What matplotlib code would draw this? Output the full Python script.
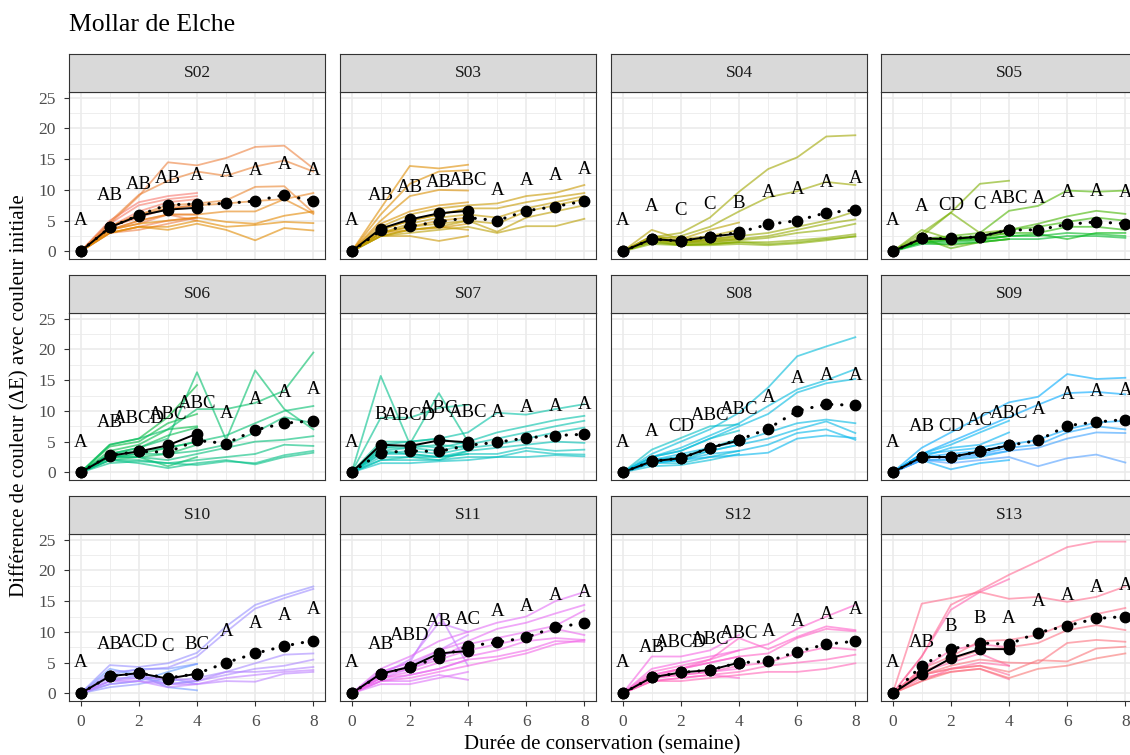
import numpy as np
import matplotlib
matplotlib.use("Agg")
import matplotlib.pyplot as plt

plt.rcParams["font.family"] = ["Liberation Serif", "DejaVu Serif"]

# ---------------------------------------------------------------------------
# Data
# ---------------------------------------------------------------------------
panels = ["S02", "S03", "S04", "S05", "S06", "S07",
          "S08", "S09", "S10", "S11", "S12", "S13"]
weeks4 = [0, 1, 2, 3, 4]
weeks8 = [0, 1, 2, 3, 4, 5, 6, 7, 8]

# S02
s02_short = [[0, 5.0, 8.0, 9.0, 9.5], [0, 4.5, 7.5, 8.5, 9.0], [0, 4.0, 6.5, 8.0, 8.5],
             [0, 4.0, 5.5, 7.0, 7.5], [0, 3.5, 5.0, 6.0, 6.0], [0, 3.0, 4.0, 5.0, 5.5],
             [0, 3.5, 4.5, 6.0, 5.0], [0, 3.0, 3.5, 4.5, 5.5]]
s02_long = [[0, 4.5, 9.0, 14.5, 14.0, 15.2, 17.0, 17.2, 13.5],
            [0, 4.8, 9.2, 11.5, 13.0, 12.3, 13.8, 14.8, 13.0],
            [0, 4.0, 6.0, 7.5, 7.8, 8.3, 10.5, 10.6, 6.3],
            [0, 4.0, 6.0, 7.0, 7.5, 7.8, 8.2, 8.5, 9.5],
            [0, 3.5, 5.0, 6.0, 6.0, 6.5, 6.5, 8.5, 6.1],
            [0, 3.5, 4.5, 5.0, 5.5, 4.8, 4.5, 5.8, 6.5],
            [0, 3.0, 4.0, 4.0, 5.0, 4.0, 4.3, 4.8, 4.6],
            [0, 3.0, 4.0, 3.5, 4.5, 3.5, 1.8, 3.8, 3.4]]
s02_mean4 = [0, 3.9, 5.8, 6.8, 7.1]
s02_mean8 = [0, 3.9, 5.9, 7.6, 7.7, 7.8, 8.2, 9.2, 8.2]
s02_letters = ["A", "AB", "AB", "AB", "A", "A", "A", "A", "A"]
s02_letter_y = [5.0, 9.1, 10.9, 11.9, 12.3, 12.9, 13.2, 14.2, 13.2]

# S03
s03_short = [[0, 7.0, 13.9, 13.5, 14.1], [0, 6.0, 11.0, 13.0, 13.2], [0, 5.0, 9.0, 10.0, 9.9],
             [0, 4.5, 6.5, 7.5, 8.0], [0, 3.5, 5.0, 6.0, 7.0], [0, 3.0, 4.0, 5.0, 5.5],
             [0, 3.0, 3.5, 3.8, 4.5], [0, 2.5, 3.5, 4.0, 3.5], [0, 2.5, 2.5, 1.7, 2.5]]
s03_long = [[0, 4.0, 6.0, 7.0, 7.5, 7.8, 9.0, 9.5, 10.8],
            [0, 3.5, 5.0, 6.0, 7.0, 7.0, 8.0, 8.8, 9.5],
            [0, 3.0, 4.5, 5.5, 6.0, 5.5, 7.0, 8.0, 9.0],
            [0, 3.0, 4.0, 4.5, 5.0, 4.5, 6.5, 7.5, 8.5],
            [0, 2.5, 3.5, 4.0, 5.0, 3.2, 5.5, 6.5, 7.5],
            [0, 2.5, 3.0, 3.5, 4.0, 3.0, 4.1, 4.1, 5.3]]
s03_mean4 = [0, 3.7, 5.2, 6.2, 6.6]
s03_mean8 = [0, 3.4, 4.1, 4.8, 5.5, 5.0, 6.6, 7.3, 8.2]
s03_letters = ["A", "AB", "AB", "AB", "ABC", "A", "A", "A", "A"]
s03_letter_y = [5.0, 9.1, 10.4, 11.2, 11.5, 9.9, 11.5, 12.3, 13.4]

# S04
s04_short = [[0, 2.5, 2.0, 3.5, 4.7], [0, 3.5, 2.0, 2.5, 3.5], [0, 2.5, 1.5, 2.0, 2.5],
             [0, 2.0, 1.3, 1.5, 2.0], [0, 2.2, 1.5, 1.8, 2.2], [0, 1.8, 1.0, 1.2, 1.5]]
s04_long = [[0, 2.3, 3.0, 5.5, 9.7, 13.4, 15.3, 18.7, 18.9],
            [0, 2.0, 2.5, 4.0, 6.5, 8.8, 9.8, 11.3, 10.8],
            [0, 2.0, 1.8, 2.0, 2.5, 3.0, 4.0, 5.0, 6.5],
            [0, 2.0, 1.5, 1.8, 2.0, 2.5, 3.5, 4.5, 5.2],
            [0, 1.8, 1.5, 1.5, 1.8, 2.2, 3.0, 3.5, 4.5],
            [0, 1.5, 1.2, 1.2, 1.5, 1.5, 1.8, 2.2, 2.8],
            [0, 1.5, 1.0, 1.0, 1.2, 1.0, 1.3, 1.8, 2.5],
            [0, 1.2, 1.0, 1.2, 1.5, 1.2, 1.5, 2.0, 2.4]]
s04_mean4 = [0, 2.0, 1.7, 2.4, 2.9]
s04_mean8 = [0, 2.0, 1.7, 2.4, 3.1, 4.4, 5.0, 6.3, 6.7]
s04_letters = ["A", "A", "C", "C", "B", "A", "A", "A", "A"]
s04_letter_y = [5.0, 7.3, 6.7, 7.6, 7.8, 9.6, 10.0, 11.2, 11.8]

# S05
s05_short = [[0, 3.0, 6.3, 11.0, 11.5], [0, 2.5, 6.3, 3.0, 3.5], [0, 3.5, 2.0, 2.5, 3.0],
             [0, 2.0, 1.8, 2.0, 2.5], [0, 1.5, 1.0, 1.5, 2.0], [0, 2.2, 0.5, 1.5, 2.0]]
s05_long = [[0, 2.0, 2.5, 3.0, 6.6, 7.4, 9.9, 9.7, 9.9],
            [0, 2.0, 2.0, 2.5, 3.5, 4.5, 5.7, 6.6, 6.1],
            [0, 2.0, 2.2, 2.5, 3.5, 4.0, 4.8, 5.5, 5.0],
            [0, 1.8, 2.0, 2.2, 3.0, 3.0, 4.0, 4.0, 3.5],
            [0, 1.5, 1.8, 2.0, 2.5, 2.8, 2.0, 3.0, 3.0],
            [0, 1.5, 1.5, 1.8, 2.5, 2.5, 3.0, 2.8, 2.5],
            [0, 1.2, 1.2, 1.5, 2.0, 2.0, 2.5, 2.5, 2.2]]
s05_mean4 = [0, 2.1, 2.0, 2.4, 3.5]
s05_mean8 = [0, 2.1, 2.1, 2.4, 3.5, 3.5, 4.4, 4.8, 4.5]
s05_letters = ["A", "A", "CD", "C", "ABC", "A", "A", "A", "A"]
s05_letter_y = [5.0, 7.3, 7.4, 7.7, 8.6, 8.6, 9.6, 9.7, 9.6]

# S06
s06_short = [[0, 4.5, 5.5, 9.0, 14.2], [0, 4.2, 5.0, 8.0, 9.5], [0, 3.5, 4.5, 7.0, 7.5],
             [0, 3.0, 4.0, 6.0, 7.3], [0, 2.5, 3.0, 4.0, 5.0], [0, 2.5, 2.5, 3.0, 4.5],
             [0, 2.0, 2.5, 1.0, 2.5]]
s06_long = [[0, 4.5, 5.5, 7.0, 10.3, 10.3, 11.3, 13.3, 19.5],
            [0, 3.0, 4.0, 5.5, 16.3, 5.3, 16.6, 10.3, 7.0],
            [0, 3.0, 3.5, 4.0, 5.0, 6.0, 8.0, 10.0, 10.8],
            [0, 2.5, 3.0, 3.0, 3.5, 4.5, 6.5, 9.0, 8.0],
            [0, 2.5, 2.5, 2.0, 3.0, 4.0, 5.0, 5.3, 5.9],
            [0, 2.0, 2.0, 1.5, 2.0, 2.5, 3.0, 4.5, 4.3],
            [0, 2.0, 1.5, 0.7, 1.5, 2.0, 1.3, 2.5, 3.2],
            [0, 1.5, 1.8, 1.5, 1.2, 1.8, 1.5, 2.8, 3.5]]
s06_mean4 = [0, 2.7, 3.4, 4.4, 6.3]
s06_mean8 = [0, 2.8, 3.4, 3.3, 5.2, 4.7, 6.9, 8.0, 8.4]
s06_letters = ["A", "AB", "ABCD", "ABC", "ABC", "A", "A", "A", "A"]
s06_letter_y = [4.9, 8.1, 8.7, 9.4, 11.2, 9.6, 11.9, 13.0, 13.5]

# S07
s07_short = [[0, 15.7, 4.6, 12.9, 5.0], [0, 8.9, 8.9, 10.5, 11.0], [0, 5.0, 5.0, 5.5, 4.5],
             [0, 4.0, 4.0, 4.5, 4.0], [0, 3.5, 3.0, 2.5, 3.0], [0, 2.0, 2.5, 2.0, 3.5]]
s07_long = [[0, 4.5, 5.0, 5.5, 6.5, 9.7, 9.4, 10.3, 11.1],
            [0, 4.0, 4.5, 4.0, 5.0, 6.5, 7.5, 8.5, 9.2],
            [0, 3.5, 4.0, 3.5, 4.5, 5.5, 6.5, 7.5, 8.4],
            [0, 3.0, 3.5, 3.0, 4.0, 4.5, 5.5, 6.5, 7.3],
            [0, 3.0, 3.0, 2.5, 3.5, 4.0, 4.5, 5.0, 4.8],
            [0, 2.5, 2.5, 2.5, 3.0, 3.0, 4.0, 3.5, 3.7],
            [0, 2.0, 2.0, 2.0, 2.5, 2.5, 3.5, 3.0, 2.9],
            [0, 1.5, 1.5, 1.8, 2.0, 2.5, 2.5, 2.8, 2.6]]
s07_mean4 = [0, 4.5, 4.3, 5.2, 4.9]
s07_mean8 = [0, 3.2, 3.5, 3.4, 4.4, 4.9, 5.6, 6.0, 6.2]
s07_letters = ["A", "B", "ABCD", "ABC", "ABC", "A", "A", "A", "A"]
s07_letter_y = [4.9, 9.4, 9.2, 10.4, 9.7, 9.8, 10.6, 10.8, 11.1]

# S08
s08_short = [[0, 3.7, 5.6, 7.5, 7.8], [0, 2.5, 3.5, 5.5, 6.8], [0, 2.0, 2.5, 4.0, 5.5],
             [0, 1.8, 2.0, 3.5, 4.5], [0, 1.5, 1.5, 2.5, 3.5], [0, 1.0, 1.2, 2.0, 3.0]]
s08_long = [[0, 3.0, 5.0, 7.0, 9.7, 13.8, 18.9, 20.5, 22.0],
            [0, 2.5, 4.0, 6.0, 8.0, 10.8, 13.5, 15.0, 16.8],
            [0, 2.5, 3.5, 5.5, 7.5, 9.5, 13.0, 14.5, 15.2],
            [0, 2.0, 3.0, 4.0, 5.0, 6.5, 8.0, 8.6, 8.0],
            [0, 2.0, 2.5, 3.5, 4.5, 5.5, 7.0, 8.3, 6.4],
            [0, 1.5, 2.0, 3.0, 3.5, 4.5, 6.4, 7.0, 5.3],
            [0, 1.5, 2.0, 2.5, 2.8, 3.2, 5.5, 6.0, 5.6]]
s08_mean4 = [0, 1.8, 2.3, 4.0, 5.2]
s08_mean8 = [0, 1.8, 2.3, 4.0, 5.3, 7.1, 10.0, 11.1, 10.9]
s08_letters = ["A", "A", "CD", "ABC", "ABC", "A", "A", "A", "A"]
s08_letter_y = [4.9, 6.7, 7.5, 9.2, 10.3, 12.2, 15.2, 15.8, 15.7]

# S09
s09_short = [[0, 3.0, 4.5, 6.5, 8.4], [0, 2.5, 4.0, 4.5, 6.5], [0, 3.0, 3.5, 4.0, 5.0],
             [0, 2.0, 2.0, 2.5, 3.5], [0, 2.0, 0.5, 1.5, 2.0]]
s09_long = [[0, 4.0, 6.5, 9.0, 11.4, 12.3, 16.0, 15.2, 15.4],
            [0, 3.0, 5.0, 7.0, 9.0, 11.0, 12.9, 13.1, 12.7],
            [0, 2.5, 3.0, 3.5, 4.5, 5.3, 7.0, 8.1, 8.4],
            [0, 2.5, 2.5, 3.0, 4.0, 4.5, 6.5, 7.5, 7.0],
            [0, 2.0, 2.2, 2.8, 3.5, 4.0, 5.5, 6.5, 6.4],
            [0, 2.0, 1.5, 2.0, 2.5, 1.0, 2.3, 2.9, 1.6]]
s09_mean4 = [0, 2.5, 2.5, 3.4, 4.4]
s09_mean8 = [0, 2.5, 2.5, 3.4, 4.4, 5.2, 7.6, 8.2, 8.6]
s09_letters = ["A", "AB", "CD", "AC", "ABC", "A", "A", "A", "A"]
s09_letter_y = [4.9, 7.5, 7.5, 8.4, 9.6, 10.3, 12.6, 13.1, 13.3]

# S10
s10_short = [[0, 1.5, 2.0, 3.5, 4.8], [0, 4.0, 3.0, 1.0, 0.5], [0, 3.0, 4.0, 4.0, 4.8],
             [0, 2.0, 3.0, 1.5, 2.0], [0, 1.0, 1.5, 2.5, 1.5]]
s10_long = [[0, 4.6, 4.3, 4.9, 6.6, 10.9, 14.4, 16.0, 17.4],
            [0, 3.5, 3.8, 4.2, 6.0, 10.0, 13.8, 15.5, 17.0],
            [0, 3.0, 3.0, 2.0, 2.5, 3.5, 4.9, 6.3, 6.5],
            [0, 2.5, 2.5, 1.5, 2.0, 3.0, 4.0, 4.5, 5.5],
            [0, 2.0, 2.5, 2.5, 2.0, 3.5, 3.5, 3.8, 4.3],
            [0, 1.5, 2.0, 1.5, 1.5, 2.0, 1.9, 3.2, 3.5],
            [0, 2.0, 2.0, 1.0, 1.5, 2.5, 3.0, 3.5, 3.8]]
s10_mean4 = [0, 2.8, 3.3, 2.4, 3.2]
s10_mean8 = [0, 2.8, 3.3, 2.5, 3.2, 5.0, 6.5, 7.7, 8.6]
s10_letters = ["A", "AB", "ACD", "C", "BC", "A", "A", "A", "A"]
s10_letter_y = [5.0, 7.9, 8.2, 7.6, 8.0, 10.1, 11.4, 12.6, 13.7]

# S11
s11_short = [[0, 3.5, 5.0, 13.0, 4.5], [0, 3.0, 5.5, 11.5, 10.0], [0, 3.0, 4.5, 7.0, 9.5],
             [0, 2.5, 4.0, 6.0, 7.5], [0, 2.0, 3.0, 4.0, 5.5], [0, 2.0, 2.0, 3.0, 2.2],
             [0, 1.5, 1.5, 2.5, 3.5]]
s11_long = [[0, 4.0, 6.0, 8.5, 10.0, 11.5, 12.5, 15.0, 16.5],
            [0, 3.5, 5.0, 7.0, 8.5, 10.5, 11.5, 13.0, 14.4],
            [0, 3.0, 4.5, 6.0, 8.0, 9.0, 10.0, 11.0, 13.5],
            [0, 3.0, 4.0, 5.5, 7.0, 8.0, 9.0, 10.5, 9.5],
            [0, 2.5, 3.5, 5.0, 6.0, 7.0, 8.5, 9.0, 8.7],
            [0, 2.5, 3.0, 4.0, 5.5, 6.0, 7.0, 8.5, 8.4],
            [0, 2.0, 2.5, 3.5, 4.5, 5.5, 6.5, 8.0, 8.7]]
s11_mean4 = [0, 3.2, 4.3, 6.5, 6.9]
s11_mean8 = [0, 3.1, 4.3, 5.8, 7.7, 8.3, 9.1, 10.8, 11.4]
s11_letters = ["A", "AB", "ABD", "AB", "AC", "A", "A", "A", "A"]
s11_letter_y = [5.0, 8.0, 9.5, 11.7, 12.1, 13.3, 14.2, 15.9, 16.4]

# S12
s12_short = [[0, 6.0, 6.0, 7.0, 9.5], [0, 4.0, 5.0, 6.0, 7.0], [0, 3.0, 4.0, 5.0, 6.0],
             [0, 2.5, 3.0, 3.5, 4.0], [0, 2.0, 2.5, 3.0, 2.5]]
s12_long = [[0, 3.5, 4.5, 5.5, 7.0, 8.0, 10.5, 12.5, 14.4],
            [0, 3.0, 4.0, 5.5, 9.0, 7.2, 9.2, 10.9, 10.3],
            [0, 2.5, 4.0, 5.0, 6.0, 6.5, 9.0, 10.5, 10.1],
            [0, 2.5, 3.0, 3.5, 4.5, 5.0, 6.5, 7.5, 7.1],
            [0, 2.0, 2.5, 3.0, 3.5, 4.5, 5.0, 5.5, 6.3],
            [0, 2.0, 2.0, 2.5, 3.0, 3.5, 3.5, 4.0, 4.9]]
s12_mean4 = [0, 2.6, 3.4, 3.8, 5.0]
s12_mean8 = [0, 2.6, 3.4, 3.8, 5.0, 5.2, 6.8, 8.0, 8.5]
s12_letters = ["A", "AB", "ABCD", "ABC", "ABC", "A", "A", "A", "A"]
s12_letter_y = [5.0, 7.5, 8.3, 8.8, 9.8, 10.1, 11.7, 12.8, 13.6]

# S13
s13_short = [[0, 6.0, 13.6, 16.5, 18.6], [0, 4.0, 7.0, 8.0, 7.5], [0, 3.5, 5.0, 6.5, 4.5],
             [0, 3.0, 4.0, 5.0, 4.5], [0, 2.5, 3.5, 4.0, 2.3], [0, 2.0, 4.0, 4.5, 3.0]]
s13_long = [[0, 6.0, 14.4, 16.8, 19.3, 21.5, 23.8, 24.7, 24.7],
            [0, 14.6, 15.5, 16.5, 15.4, 15.7, 14.9, 15.7, 17.4],
            [0, 4.0, 6.0, 8.5, 8.7, 9.5, 11.4, 12.9, 13.9],
            [0, 3.5, 5.5, 7.0, 7.5, 8.2, 10.3, 11.1, 10.3],
            [0, 3.0, 4.5, 5.5, 5.0, 4.9, 8.2, 8.7, 8.4],
            [0, 3.0, 4.0, 4.5, 3.5, 5.4, 5.2, 7.3, 7.6],
            [0, 2.0, 3.5, 4.0, 2.5, 4.0, 4.5, 5.7, 6.5]]
s13_mean4 = [0, 3.1, 5.7, 7.2, 7.2]
s13_mean8 = [0, 4.5, 7.2, 8.2, 8.0, 9.9, 11.0, 12.2, 12.5]
s13_letters = ["A", "AB", "B", "B", "A", "A", "A", "A", "A"]
s13_letter_y = [5.0, 8.2, 10.9, 12.2, 12.2, 14.9, 15.9, 17.3, 17.5]

short_lines = [s02_short, s03_short, s04_short, s05_short, s06_short, s07_short,
               s08_short, s09_short, s10_short, s11_short, s12_short, s13_short]
long_lines = [s02_long, s03_long, s04_long, s05_long, s06_long, s07_long,
              s08_long, s09_long, s10_long, s11_long, s12_long, s13_long]
means4 = [s02_mean4, s03_mean4, s04_mean4, s05_mean4, s06_mean4, s07_mean4,
          s08_mean4, s09_mean4, s10_mean4, s11_mean4, s12_mean4, s13_mean4]
means8 = [s02_mean8, s03_mean8, s04_mean8, s05_mean8, s06_mean8, s07_mean8,
          s08_mean8, s09_mean8, s10_mean8, s11_mean8, s12_mean8, s13_mean8]
letters = [s02_letters, s03_letters, s04_letters, s05_letters, s06_letters, s07_letters,
           s08_letters, s09_letters, s10_letters, s11_letters, s12_letters, s13_letters]
letters_y = [s02_letter_y, s03_letter_y, s04_letter_y, s05_letter_y, s06_letter_y,
             s07_letter_y, s08_letter_y, s09_letter_y, s10_letter_y, s11_letter_y,
             s12_letter_y, s13_letter_y]


# ---------------------------------------------------------------------------
# ggplot-like hue palette (HCL -> sRGB)
# ---------------------------------------------------------------------------
def hcl(h, c=100.0, l=65.0):
    Xn, Yn, Zn = 95.047, 100.0, 108.883
    hr = np.deg2rad(h)
    u, v = c * np.cos(hr), c * np.sin(hr)
    Y = Yn * ((l + 16) / 116) ** 3
    den = Xn + 15 * Yn + 3 * Zn
    un, vn = 4 * Xn / den, 9 * Yn / den
    up = u / (13 * l) + un
    vp = v / (13 * l) + vn
    X = 9.0 * Y * up / (4 * vp)
    Z = -X / 3 - 5 * Y + 3 * Y / vp
    M = np.array([[3.2406, -1.5372, -0.4986],
                  [-0.9689, 1.8758, 0.0415],
                  [0.0557, -0.2040, 1.0570]])
    rgb = M @ (np.array([X, Y, Z]) / 100.0)
    rgb = np.where(rgb <= 0.0031308, 12.92 * rgb, 1.055 * np.clip(rgb, 0, None) ** (1 / 2.4) - 0.055)
    return tuple(np.clip(rgb, 0, 1))


# ---------------------------------------------------------------------------
# Layout (pixels of a 1130x755 figure)
# ---------------------------------------------------------------------------
W, H = 1130, 755
fig = plt.figure(figsize=(W / 100, H / 100), dpi=100)

col_left = [69, 340, 611, 881]
panel_w = 256
strip_top = [54, 275, 496]
strip_h = 38
panel_h = 167

GRID = "#EBEBEB"
DARK = "#333333"
TICK_C = "#4D4D4D"

for i, name in enumerate(panels):
    r, c = divmod(i, 4)
    x0 = col_left[c]
    ytop = strip_top[r] + strip_h
    ax = fig.add_axes([x0 / W, 1 - (ytop + panel_h) / H, panel_w / W, panel_h / H])
    sax = fig.add_axes([x0 / W, 1 - ytop / H, panel_w / W, strip_h / H])

    # strip
    sax.set_facecolor("#D9D9D9")
    sax.set_xticks([])
    sax.set_yticks([])
    for sp in sax.spines.values():
        sp.set_color(DARK)
        sp.set_linewidth(0.8)
    sax.text(0.5, 0.5, name, ha="center", va="center", fontsize=12.5,
             color="#1A1A1A", transform=sax.transAxes)

    # panel
    ax.set_xlim(-0.4, 8.4)
    ax.set_ylim(-1.24, 25.94)
    ax.set_xticks([0, 2, 4, 6, 8])
    ax.set_xticks([1, 3, 5, 7], minor=True)
    ax.set_yticks([0, 5, 10, 15, 20, 25])
    ax.set_yticks([2.5, 7.5, 12.5, 17.5, 22.5], minor=True)
    ax.grid(True, which="major", color=GRID, linewidth=1.2, zorder=0)
    ax.grid(True, which="minor", color=GRID, linewidth=0.6, zorder=0)
    ax.set_axisbelow(True)
    for sp in ax.spines.values():
        sp.set_color(DARK)
        sp.set_linewidth(0.8)
    ax.tick_params(which="minor", length=0)
    ax.tick_params(which="major", length=3.5, width=0.8, color=DARK,
                   labelsize=12.5, labelcolor=TICK_C)
    ax.tick_params(axis="x", pad=6)
    ax.tick_params(axis="y", pad=6)
    if c != 0:
        ax.tick_params(axis="y", labelleft=False, length=0)
    if r != 2:
        ax.tick_params(axis="x", labelbottom=False, length=0)

    # individual fruits, coloured on a continuous hue wheel
    shorts, longs = short_lines[i], long_lines[i]
    n = len(shorts) + len(longs)
    for j, y in enumerate(shorts + longs):
        hue = 15 + 30 * i + 30 * j / n
        xs = weeks4 if j < len(shorts) else weeks8
        ax.plot(xs, y, color=hcl(hue), alpha=0.6, linewidth=1.3, zorder=2)

    # means
    ax.plot(weeks8, means8[i], color="black", linestyle=(0, (0.1, 3.2)),
            linewidth=2.2, dash_capstyle="round", zorder=3)
    ax.plot(weeks4, means4[i], color="black", linewidth=1.4, zorder=3)
    ax.plot(weeks8, means8[i], "o", color="black", markersize=7.5, zorder=4)
    ax.plot(weeks4, means4[i], "o", color="black", markersize=7.5, zorder=4)

    # significance letters
    for wk, lab, ly in zip(weeks8, letters[i], letters_y[i]):
        ax.text(wk, ly, lab, ha="center", va="center", fontsize=13.5,
                color="black", zorder=5, clip_on=True)

fig.text(69 / W, 1 - 25 / H, "Mollar de Elche", ha="left", va="center",
         fontsize=18.5, color="black")
fig.text(602 / W, 1 - 745 / H, "Durée de conservation (semaine)",
         ha="center", va="center", fontsize=15)
fig.text(20 / W, 1 - 396 / H, "Différence de couleur (ΔE) avec couleur initiale",
         ha="center", va="center", rotation=90, fontsize=15)

fig.savefig("out.png", dpi=100)
